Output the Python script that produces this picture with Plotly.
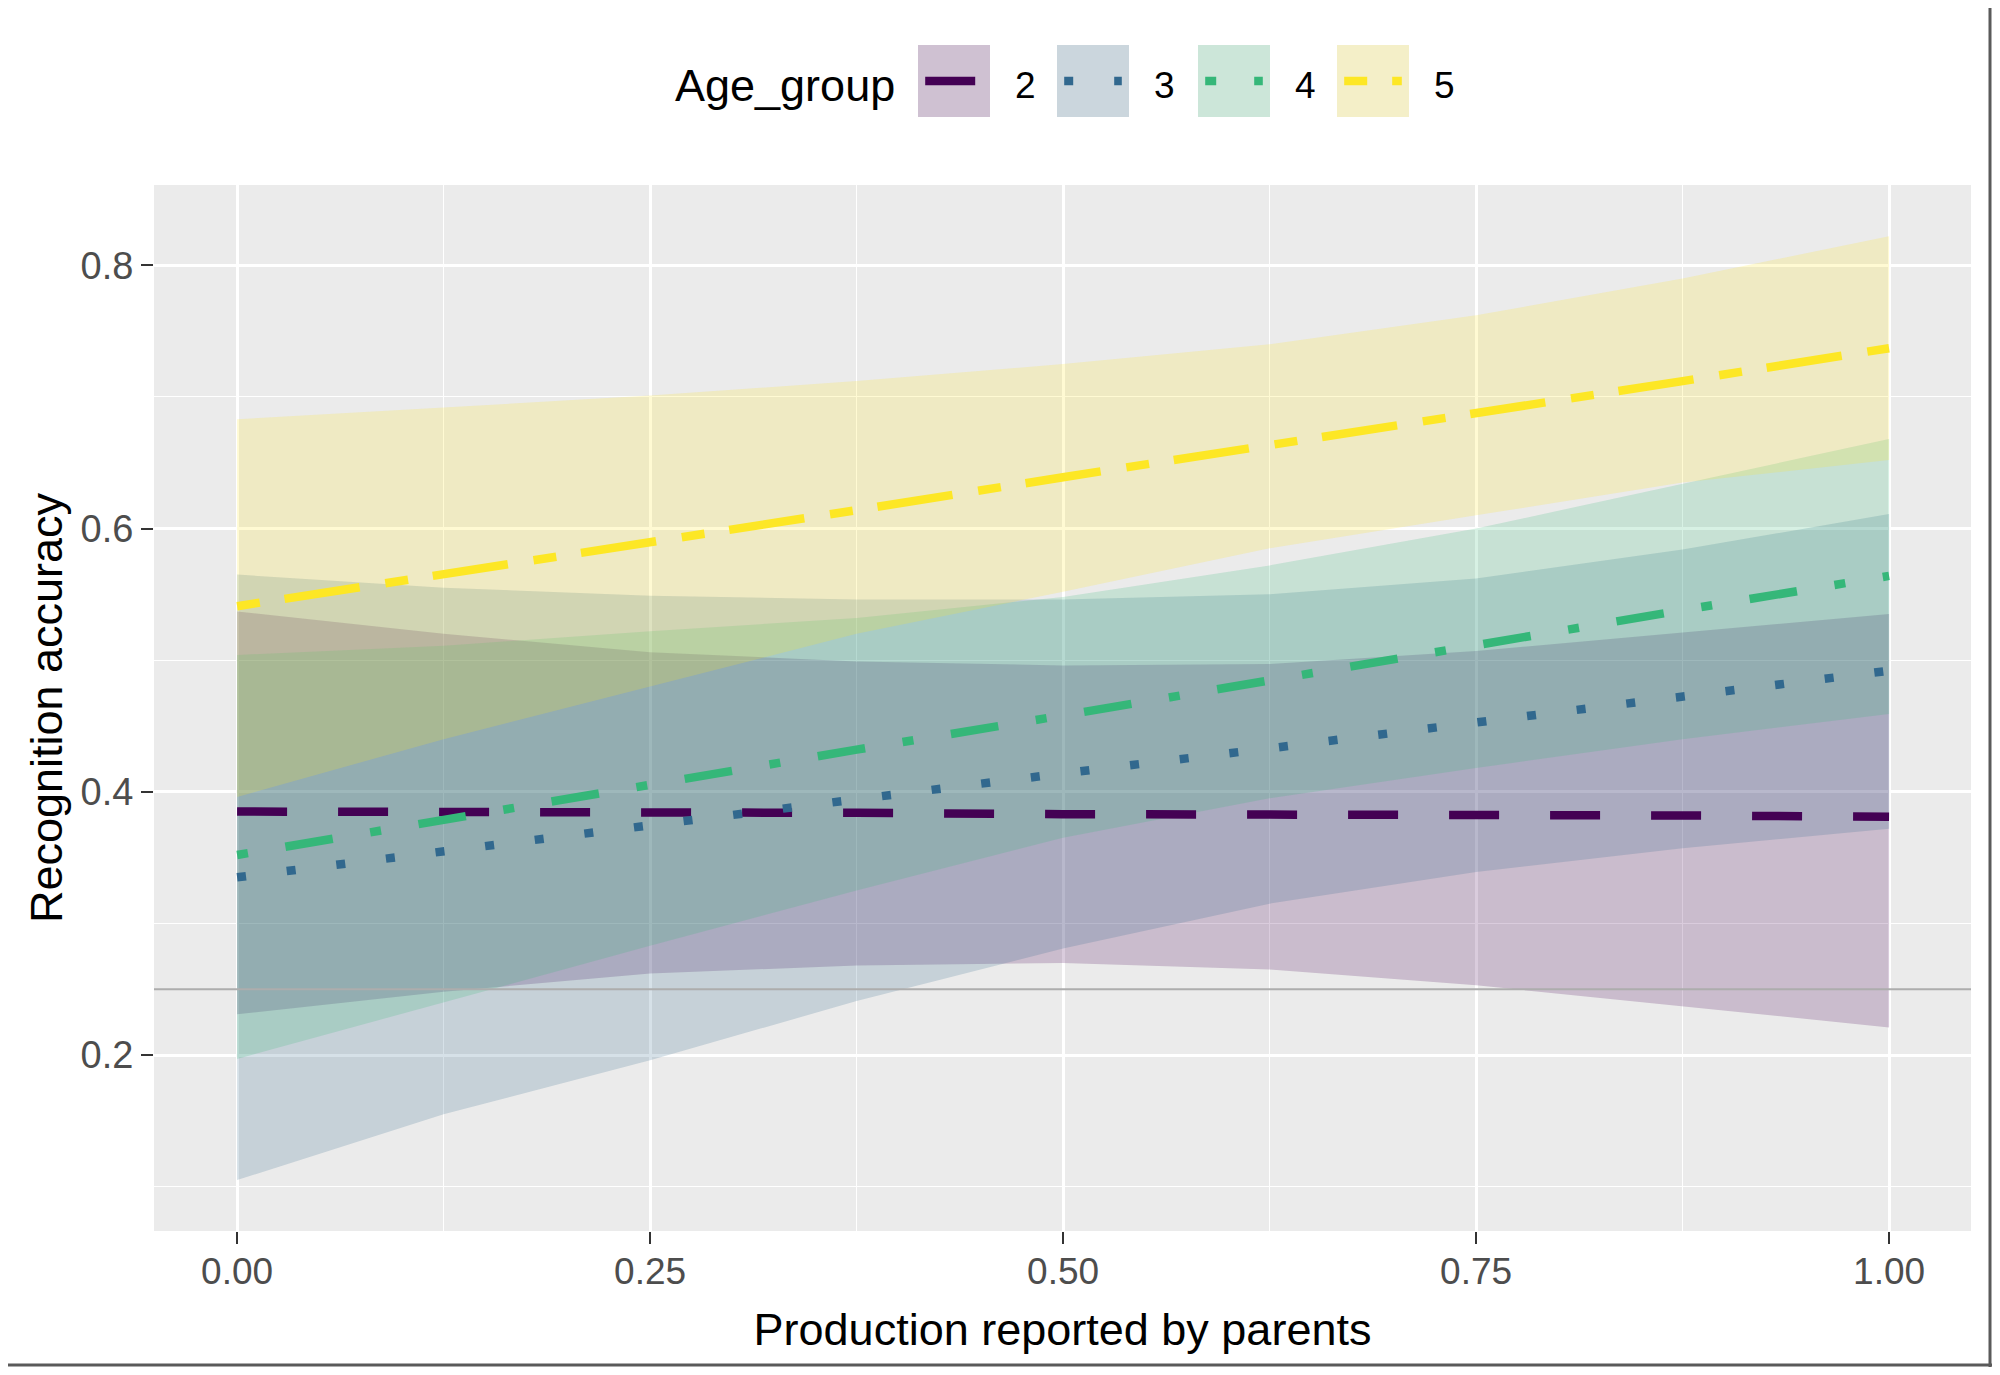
import plotly.graph_objects as go

# ---------------- data ----------------
age_groups = ["2", "3", "4", "5"]
x_vals = [0.0, 0.125, 0.25, 0.375, 0.5, 0.625, 0.75, 0.875, 1.0]

fit_2 = [0.385, 0.385, 0.384, 0.384, 0.383, 0.383, 0.382, 0.382, 0.381]
lo_2 = [0.231, 0.248, 0.262, 0.268, 0.270, 0.265, 0.253, 0.237, 0.221]
hi_2 = [0.537, 0.520, 0.506, 0.499, 0.496, 0.497, 0.507, 0.521, 0.535]

fit_3 = [0.335, 0.355, 0.374, 0.394, 0.414, 0.433, 0.453, 0.472, 0.492]
lo_3 = [0.105, 0.155, 0.196, 0.241, 0.281, 0.315, 0.339, 0.357, 0.372]
hi_3 = [0.565, 0.555, 0.549, 0.546, 0.546, 0.550, 0.562, 0.584, 0.611]

fit_4 = [0.352, 0.379, 0.405, 0.432, 0.458, 0.485, 0.511, 0.538, 0.564]
lo_4 = [0.197, 0.240, 0.283, 0.325, 0.365, 0.395, 0.418, 0.440, 0.459]
hi_4 = [0.504, 0.511, 0.522, 0.532, 0.548, 0.572, 0.600, 0.634, 0.668]

fit_5 = [0.541, 0.565, 0.590, 0.614, 0.639, 0.663, 0.688, 0.712, 0.737]
lo_5 = [0.396, 0.440, 0.480, 0.520, 0.552, 0.585, 0.610, 0.635, 0.652]
hi_5 = [0.683, 0.692, 0.701, 0.712, 0.725, 0.740, 0.762, 0.790, 0.822]

chance_level = 0.25

x_ticks = [0.0, 0.25, 0.5, 0.75, 1.0]
x_tick_labels = ["0.00", "0.25", "0.50", "0.75", "1.00"]
y_ticks = [0.2, 0.4, 0.6, 0.8]
y_tick_labels = ["0.2", "0.4", "0.6", "0.8"]

# ---------------- styles ----------------
colors = ["#440154", "#31688E", "#35B779", "#FDE725"]
fills = ["rgba(68,1,84,0.2)", "rgba(49,104,142,0.2)",
         "rgba(53,183,121,0.2)", "rgba(253,231,37,0.2)"]
dashes = ["50px,51px", "9px,41px", "11px,38px,48px,38px", "23px,25px,76px,26px"]
FONT = "Liberation Sans, Arial, sans-serif"

fits = [fit_2, fit_3, fit_4, fit_5]
los = [lo_2, lo_3, lo_4, lo_5]
his = [hi_2, hi_3, hi_4, hi_5]

fig = go.Figure()

# ribbons
for g, lo, hi, fc in zip(age_groups, los, his, fills):
    fig.add_trace(go.Scatter(
        x=x_vals + x_vals[::-1], y=hi + lo[::-1],
        fill="toself", fillcolor=fc, line=dict(width=0),
        mode="lines", hoverinfo="skip", showlegend=False, name=g))

# lines
for g, f, c, d in zip(age_groups, fits, colors, dashes):
    fig.add_trace(go.Scatter(
        x=x_vals, y=f, mode="lines", name=g, showlegend=False,
        line=dict(color=c, width=8.5, dash=d)))

# ---------------- layout geometry (page pixels) ----------------
OFF = 8                      # default body margin of the html page
W, H = 2000 - 2 * OFF, 1375 - 2 * OFF
L, R, T, B = 154, 1971, 185, 1231   # plot area in page pixels


def pxx(v):
    return (v - L) / (R - L)


def pxy(v):
    return (B - v) / (B - T)


shapes = []
# chance line
shapes.append(dict(type="line", xref="paper", yref="y", x0=0, x1=1,
                   y0=chance_level, y1=chance_level,
                   line=dict(color="#ADADAD", width=2)))

# manual legend
annotations = []
annotations.append(dict(text="Age_group", x=pxx(673), y=pxy(86), xref="paper", yref="paper",
                        xanchor="left", yanchor="middle", showarrow=False,
                        font=dict(family=FONT, size=45, color="black")))
box_left = [918, 1057, 1198, 1337]
box_w, box_top, box_bot = 72, 45, 117
for g, bl, fc, c, d in zip(age_groups, box_left, fills, colors, dashes):
    shapes.append(dict(type="rect", xref="paper", yref="paper",
                       x0=pxx(bl), x1=pxx(bl + box_w), y0=pxy(box_bot), y1=pxy(box_top),
                       fillcolor="#F2F2F2", line=dict(width=0)))
    shapes.append(dict(type="rect", xref="paper", yref="paper",
                       x0=pxx(bl), x1=pxx(bl + box_w), y0=pxy(box_bot), y1=pxy(box_top),
                       fillcolor=fc, line=dict(width=0)))
    ym = pxy((box_top + box_bot) / 2)
    shapes.append(dict(type="line", xref="paper", yref="paper",
                       x0=pxx(bl + 0.1 * box_w), x1=pxx(bl + 0.9 * box_w), y0=ym, y1=ym,
                       line=dict(color=c, width=8.5, dash=d)))
    annotations.append(dict(text=g, x=pxx(bl + box_w + 23), y=pxy(86), xref="paper", yref="paper",
                            xanchor="left", yanchor="middle", showarrow=False,
                            font=dict(family=FONT, size=37, color="black")))

# screenshot frame on right and bottom (at the figure's edges)
right_px = OFF + W - 2
bottom_px = OFF + H - 2
shapes.append(dict(type="line", xref="paper", yref="paper",
                   x0=pxx(right_px), x1=pxx(right_px), y0=pxy(OFF), y1=pxy(bottom_px + 2),
                   line=dict(color="#5A5A5A", width=3)))
shapes.append(dict(type="line", xref="paper", yref="paper",
                   x0=pxx(OFF), x1=pxx(right_px + 2), y0=pxy(bottom_px), y1=pxy(bottom_px),
                   line=dict(color="#5A5A5A", width=3)))

fig.update_layout(
    width=W, height=H,
    margin=dict(l=L - OFF, r=(OFF + W) - R, t=T - OFF, b=(OFF + H) - B, pad=0),
    paper_bgcolor="white", plot_bgcolor="#EBEBEB",
    font=dict(family=FONT, color="black"),
    showlegend=False,
    shapes=shapes, annotations=annotations,
    xaxis=dict(
        range=[-0.0503, 1.0496], tickvals=x_ticks, ticktext=x_tick_labels,
        showgrid=True, gridcolor="white", gridwidth=2.6, zeroline=False, showline=False,
        ticks="outside", ticklen=12, tickwidth=2.4, tickcolor="#333333",
        tickfont=dict(family=FONT, size=37, color="#4D4D4D"),
        ticklabelstandoff=-4,
        minor=dict(tickvals=[0.125, 0.375, 0.625, 0.875], showgrid=True,
                   gridcolor="white", gridwidth=1.3, ticks=""),
        title=dict(text="Production reported by parents", standoff=22,
                   font=dict(family=FONT, size=45, color="black")),
    ),
    yaxis=dict(
        range=[0.0663, 0.861], tickvals=y_ticks, ticktext=y_tick_labels,
        showgrid=True, gridcolor="white", gridwidth=2.6, zeroline=False, showline=False,
        ticks="outside", ticklen=12, tickwidth=2.4, tickcolor="#333333",
        tickfont=dict(family=FONT, size=38, color="#4D4D4D"),
        minor=dict(tickvals=[0.1, 0.3, 0.5, 0.7], showgrid=True,
                   gridcolor="white", gridwidth=1.3, ticks=""),
        title=dict(text="Recognition accuracy", standoff=3,
                   font=dict(family=FONT, size=45, color="black")),
    ),
)

fig.write_html("out.html")
